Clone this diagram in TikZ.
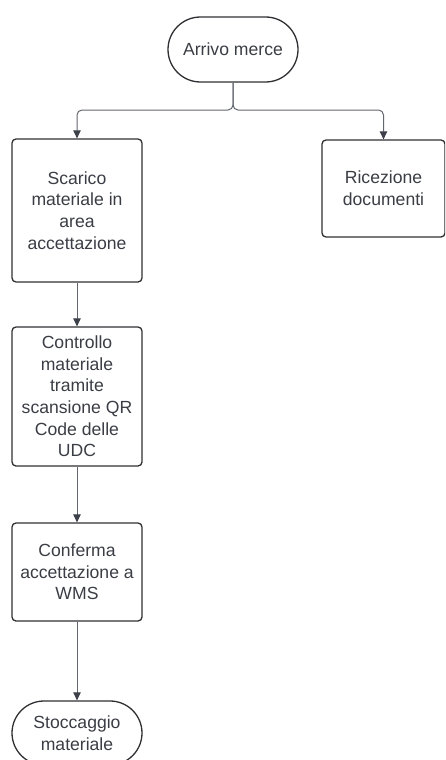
\documentclass[tikz,border=0pt]{standalone}
\usepackage{fontspec}
\setmainfont{Liberation Sans}
\usetikzlibrary{arrows.meta,shapes.misc}
\definecolor{inkline}{HTML}{2F3033}
\definecolor{inktext}{HTML}{3A3D44}
\definecolor{wire}{HTML}{62666E}
\definecolor{tipfill}{HTML}{3C4049}
\tikzset{
  proc/.style={draw=inkline, line width=1.3pt, rounded corners=4pt, inner sep=0pt,
    align=center, text=inktext, font=\fontsize{17.6}{21.6}\selectfont,
    minimum width=130pt},
  term/.style={draw=inkline, line width=1.3pt, rounded rectangle, inner sep=0pt,
    align=center, text=inktext, font=\fontsize{17.6}{21.6}\selectfont,
    minimum width=130pt, minimum height=65pt},
  flow/.style={draw=wire, line width=1pt,
    -{Triangle[length=8pt,width=7.5pt,fill=tipfill,color=tipfill]}},
}
\begin{document}
\begin{tikzpicture}[x=1pt,y=-1pt]
  \useasboundingbox (0,0) rectangle (445,760);
  \clip (0,0) rectangle (445,760);

  % start and end terminals
  \node[term] (arrivo) at (233,49.5) {Arrivo merce};
  \node[term, minimum height=64pt] (stoccaggio) at (77,733) {Stoccaggio\\materiale};

  % process steps
  \node[proc, minimum height=143pt] (scarico) at (77,210.5)
    {Scarico\\materiale in\\area\\accettazione};
  \node[proc, minimum width=123pt, minimum height=97pt] (ricezione) at (383.5,188.5)
    {Ricezione\\documenti};
  \node[proc, minimum height=139pt] (controllo) at (77,396.5)
    {Controllo\\materiale\\tramite\\scansione QR\\Code delle\\UDC};
  \node[proc, minimum height=98pt] (conferma) at (77,572)
    {Conferma\\accettazione a\\WMS};

  % split after arrival
  \coordinate (split) at (233,110);
  \draw[flow, rounded corners=5pt] (arrivo.south) -- (split) -| (scarico.north);
  \draw[flow, rounded corners=5pt] (arrivo.south) -- (split) -| (ricezione.north);

  % main sequence
  \draw[flow] (scarico.south) -- (controllo.north);
  \draw[flow] (controllo.south) -- (conferma.north);
  \draw[flow] (conferma.south) -- (stoccaggio.north);
\end{tikzpicture}
\end{document}
